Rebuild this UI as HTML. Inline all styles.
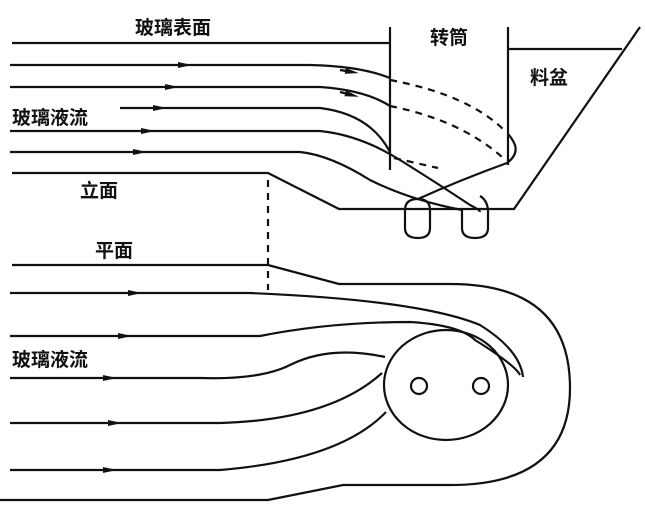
<!DOCTYPE html><html><head><style>body{margin:0;background:#fff}svg{display:block}text{font-family:"Liberation Sans","Noto Sans CJK SC",sans-serif;font-weight:bold;font-size:19px;fill:#111}</style></head><body>
<svg width="645" height="509" viewBox="0 0 645 509" fill="none" stroke="#111" stroke-width="2.2">
<defs><marker id="a" markerWidth="14" markerHeight="8" refX="7" refY="4" orient="auto" markerUnits="userSpaceOnUse"><path d="M0,1 L14,4 L0,7Z" fill="#111" stroke="none"/></marker></defs>
<text x="135" y="34" stroke="none">玻璃表面</text>
<text x="430" y="44" stroke="none">转筒</text>
<text x="530" y="84" stroke="none">料盆</text>
<text x="12" y="124" stroke="none">玻璃液流</text>
<text x="80" y="197" stroke="none">立面</text>
<text x="95" y="257" stroke="none">平面</text>
<text x="12" y="366" stroke="none">玻璃液流</text>
<path d="M12 43H390M390 27V170M508 27V165M508 49H622M640 27L514 209H339L268 173H12"/>
<path d="M268 180V290" stroke-dasharray="7 6"/>
<path d="M10 65H185" marker-end="url(#a)"/><path d="M185 65H310Q360 66 390 78"/><path d="M340 70L352 72" marker-end="url(#a)"/>
<path d="M10 87H172" marker-end="url(#a)"/><path d="M172 87H320Q365 90 390 106"/><path d="M340 92L352 95" marker-end="url(#a)"/>
<path d="M120 108H160" marker-end="url(#a)"/><path d="M160 108H320Q370 114 390 152"/>
<path d="M10 131H148" marker-end="url(#a)"/><path d="M148 131H320Q360 135 400 160Q440 185 470 205Q480 210 480 212"/>
<path d="M10 152H140" marker-end="url(#a)"/><path d="M140 152H300Q330 155 370 180Q410 200 462 210"/>
<path d="M390 80Q470 95 506 132M390 106Q460 120 502 157M394 158L438 168" stroke-dasharray="7 6"/>
<path d="M418 199Q460 180 507 163Q518 155 515 145Q512 138 508 134"/>
<path d="M405 210Q405 199 418 199Q430 199 430 210V228Q430 238 418 238Q405 238 405 228Z"/>
<path d="M462 210V228Q462 238 475 238Q488 238 488 228V210Q487 200 480 196"/>
<path d="M12 265H268L339 284H450Q570 284 570 388Q570 485 450 485H343L268 500H0"/>
<path d="M10 293H135" marker-end="url(#a)"/><path d="M135 293H250Q420 300 480 325Q520 350 523 377"/>
<path d="M10 336H125" marker-end="url(#a)"/><path d="M125 336H260Q330 322 410 322Q460 325 475 340Q515 365 520 375"/>
<path d="M10 378H110" marker-end="url(#a)"/><path d="M110 378H200Q260 380 290 365Q330 345 385 357"/>
<path d="M10 423H115" marker-end="url(#a)"/><path d="M115 423H220Q330 420 382 373"/>
<path d="M10 470H110" marker-end="url(#a)"/><path d="M110 470H220Q340 460 386 412"/>
<ellipse cx="446" cy="385" rx="62" ry="55"/>
<circle cx="419" cy="386" r="8"/><circle cx="481" cy="386" r="8"/>
</svg></body></html>
